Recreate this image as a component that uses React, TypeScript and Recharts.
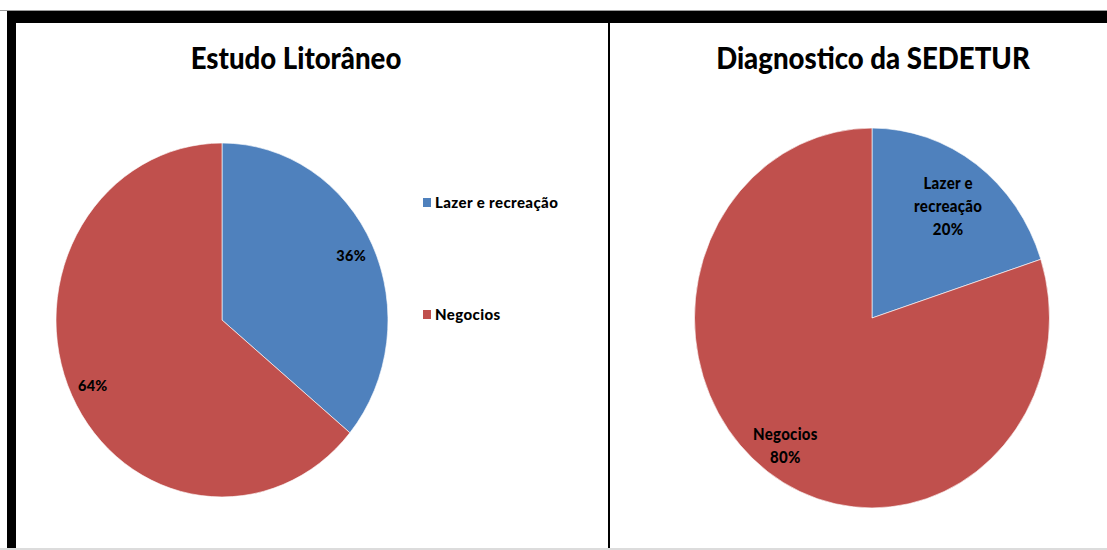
import React from 'react';
import { PieChart, Pie, Cell } from 'recharts';

// Categories and their shares in each study
const categories = ['Lazer e recreação', 'Negocios'];
const estudoValues = [36, 64];
const sedeturValues = [20, 80];
const sliceColors = ['#4F81BD', '#C0504D'];

// Multi-line category text used inside the SEDETUR slices
const sedeturLabelLines = [['Lazer e', 'recreação'], ['Negocios']];

const estudoData = categories.map((name, i) => ({ name, value: estudoValues[i] }));
const sedeturData = categories.map((name, i) => ({ name, value: sedeturValues[i] }));

const FONT = "Lato, 'DejaVu Sans Condensed', sans-serif";
const RAD = Math.PI / 180;
const NO_MARGIN = { top: 0, right: 0, bottom: 0, left: 0 };

const pct = (v: number) => `${v}%`;

// Radial placement of labels, as a fraction of the outer radius
const estudoLabelFactor = [0.86, 0.86];
const sedeturLabelFactor = [0.73, 0.83];

function EstudoLabel(props: any) {
  const { cx, cy, midAngle, outerRadius, index, value } = props;
  const r = outerRadius * estudoLabelFactor[index];
  const x = cx + r * Math.cos(-midAngle * RAD);
  const y = cy + r * Math.sin(-midAngle * RAD);
  return (
    <text
      x={x}
      y={y}
      textAnchor="middle"
      dominantBaseline="central"
      fontFamily={FONT}
      fontWeight={900}
      fontSize={14.5}
      letterSpacing={0.3}
      fill="#000"
    >
      {pct(value)}
    </text>
  );
}

function SedeturLabel(props: any) {
  const { cx, cy, midAngle, outerRadius, index, value } = props;
  const r = outerRadius * sedeturLabelFactor[index];
  const x = cx + r * Math.cos(-midAngle * RAD);
  const y = cy + r * Math.sin(-midAngle * RAD);
  const lines = [...sedeturLabelLines[index], pct(value)];
  const lh = 21.5;
  const y0 = y - ((lines.length - 1) * lh) / 2;
  return (
    <text
      textAnchor="middle"
      dominantBaseline="central"
      fontFamily={FONT}
      fontWeight={900}
      fontSize={15}
      letterSpacing={0.3}
      fill="#000"
    >
      {lines.map((t, i) => (
        <tspan key={i} x={x} y={y0 + i * lh}>
          {t}
        </tspan>
      ))}
    </text>
  );
}

const titleStyle: React.CSSProperties = {
  position: 'absolute',
  width: 400,
  fontFamily: FONT,
  fontWeight: 900,
  fontSize: 31,
  lineHeight: '31px',
  color: '#000',
  textAlign: 'center',
  whiteSpace: 'nowrap',
  transform: 'scaleX(0.89)',
};

export default function App() {
  return (
    <div
      style={{
        position: 'absolute',
        left: 0,
        top: 0,
        width: 1107,
        height: 550,
        background: '#fff',
        overflow: 'hidden',
      }}
    >
      {/* outer frame */}
      <div style={{ position: 'absolute', left: 0, top: 10, width: 1107, height: 1, background: '#9a9a9a' }} />
      <div style={{ position: 'absolute', left: 7, top: 11, width: 1100, height: 12, background: '#000' }} />
      <div style={{ position: 'absolute', left: 7, top: 11, width: 9, height: 539, background: '#000' }} />
      <div style={{ position: 'absolute', left: 608, top: 23, width: 2, height: 527, background: '#000' }} />
      <div style={{ position: 'absolute', left: 0, top: 548, width: 1107, height: 2, background: '#dcdcdc' }} />

      {/* titles */}
      <div style={{ ...titleStyle, left: 96, top: 42 }}>Estudo Litorâneo</div>
      <div style={{ ...titleStyle, left: 673, top: 42 }}>Diagnostico da SEDETUR</div>

      {/* left pie */}
      <div
        style={{
          position: 'absolute',
          left: 21.5,
          top: 120,
          width: 400,
          height: 400,
          transform: 'scaleY(1.066)',
          transformOrigin: '200px 200px',
        }}
      >
        <PieChart width={400} height={400} margin={NO_MARGIN}>
          <Pie
            data={estudoData}
            dataKey="value"
            nameKey="name"
            cx={200}
            cy={200}
            outerRadius={166}
            startAngle={90}
            endAngle={-270}
            stroke="#ffffff"
            strokeWidth={0.6}
            label={EstudoLabel}
            labelLine={false}
            isAnimationActive={false}
          >
            {estudoData.map((d, i) => (
              <Cell key={d.name} fill={sliceColors[i]} />
            ))}
          </Pie>
        </PieChart>
      </div>

      {/* left legend */}
      {categories.map((c, i) => (
        <div
          key={c}
          style={{
            position: 'absolute',
            left: 423,
            top: i === 0 ? 194 : 306,
            height: 16,
            display: 'flex',
            alignItems: 'center',
            fontFamily: FONT,
            fontWeight: 900,
            fontSize: 15,
            letterSpacing: 0.4,
            color: '#000',
            whiteSpace: 'nowrap',
          }}
        >
          <span style={{ display: 'inline-block', width: 8, height: 9, background: sliceColors[i], marginRight: 4 }} />
          {c}
        </div>
      ))}

      {/* right pie */}
      <div
        style={{
          position: 'absolute',
          left: 661.5,
          top: 108,
          width: 420,
          height: 420,
          transform: 'scaleY(1.07)',
          transformOrigin: '210px 210px',
        }}
      >
        <PieChart width={420} height={420} margin={NO_MARGIN}>
          <Pie
            data={sedeturData}
            dataKey="value"
            nameKey="name"
            cx={210}
            cy={210}
            outerRadius={177.5}
            startAngle={90}
            endAngle={-270}
            stroke="#ffffff"
            strokeWidth={0.6}
            label={SedeturLabel}
            labelLine={false}
            isAnimationActive={false}
          >
            {sedeturData.map((d, i) => (
              <Cell key={d.name} fill={sliceColors[i]} />
            ))}
          </Pie>
        </PieChart>
      </div>
    </div>
  );
}
